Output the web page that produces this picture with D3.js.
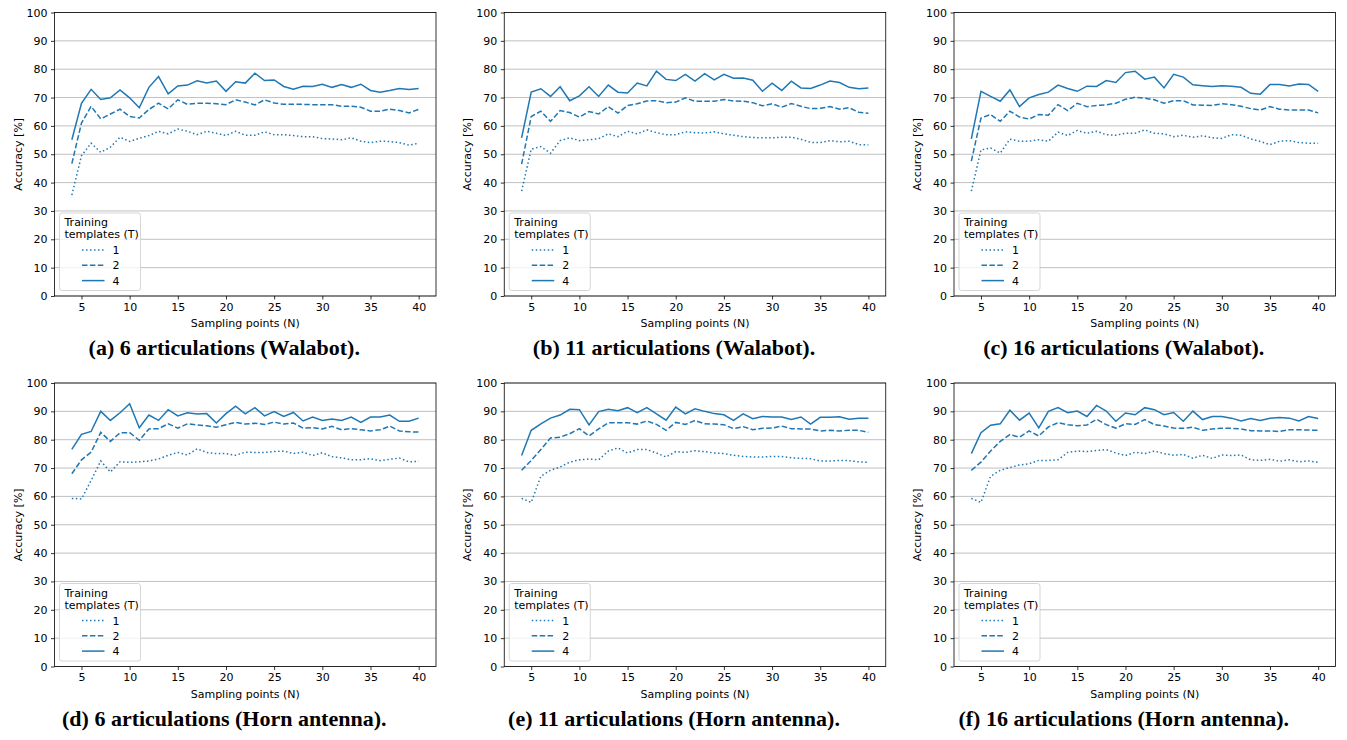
<!DOCTYPE html>
<html>
<head>
<meta charset="utf-8">
<script src="https://cdn.jsdelivr.net/npm/d3@7"></script>
<style>
  body { margin: 0; background: #fff; }
  text { font-family: "DejaVu Sans", sans-serif; }
  .caption { font-family: "Liberation Serif", serif; font-weight: bold; }
</style>
</head>
<body>
<div id="chart"></div>
<script>
// Sampling points on the x axis
var samplingPoints = [4, 5, 6, 7, 8, 9, 10, 11, 12, 13, 14, 15, 16, 17, 18, 19, 20, 21, 22,
  23, 24, 25, 26, 27, 28, 29, 30, 31, 32, 33, 34, 35, 36, 37, 38, 39, 40];

var xTicks = [5, 10, 15, 20, 25, 30, 35, 40];
var yTicks = [0, 10, 20, 30, 40, 50, 60, 70, 80, 90, 100];
var templateLabels = ["1", "2", "4"];

// (a) 6 articulations (Walabot)
var walabot6T1 = [35.6, 49.5, 53.9, 50.7, 52.5, 56.0, 54.5, 55.6, 56.6, 58.1, 57.2, 58.9, 58.1, 56.9, 58.1, 57.4, 56.6, 58.1, 56.7,
  56.7, 57.9, 56.9, 56.9, 56.6, 56.2, 56.2, 55.5, 55.4, 55.1, 55.8, 54.6, 54.1, 54.6, 54.5, 54.1, 53.2, 53.9];
var walabot6T2 = [46.7, 61.0, 66.9, 62.5, 64.2, 65.9, 63.3, 62.8, 65.8, 68.0, 66.0, 69.2, 67.6, 68.0, 68.0, 67.8, 67.5, 69.2, 68.4,
  67.4, 69.2, 68.1, 67.6, 67.6, 67.6, 67.5, 67.5, 67.5, 66.9, 66.9, 66.6, 65.2, 65.2, 65.9, 65.4, 64.6, 65.8];
var walabot6T4 = [55.1, 68.0, 72.9, 69.3, 69.9, 72.7, 69.9, 66.4, 73.6, 77.4, 71.3, 74.1, 74.4, 75.9, 75.1, 75.8, 72.2, 75.6, 75.1,
  78.6, 76.0, 76.2, 73.9, 72.9, 74.0, 73.9, 74.7, 73.6, 74.6, 73.6, 74.7, 72.5, 71.9, 72.5, 73.2, 72.8, 73.2];

// (b) 11 articulations (Walabot)
var walabot11T1 = [37.0, 51.8, 52.7, 50.4, 54.8, 55.8, 54.8, 55.1, 55.5, 57.2, 56.2, 58.1, 57.2, 58.6, 57.6, 56.9, 56.9, 57.9, 57.6,
  57.5, 57.9, 57.2, 56.7, 56.2, 55.9, 55.8, 55.8, 56.0, 56.0, 55.3, 54.2, 54.1, 54.8, 54.4, 54.6, 53.4, 53.3];
var walabot11T2 = [46.5, 63.3, 65.2, 61.6, 65.4, 64.7, 63.1, 65.1, 64.2, 66.8, 64.5, 67.2, 67.8, 68.8, 68.9, 68.2, 68.4, 69.9, 68.7,
  68.7, 68.7, 69.3, 68.8, 68.7, 68.2, 67.1, 67.8, 66.6, 67.9, 66.9, 66.1, 66.2, 66.8, 65.9, 66.4, 64.8, 64.5];
var walabot11T4 = [55.8, 71.9, 73.1, 70.4, 73.8, 68.9, 70.6, 73.8, 70.4, 74.4, 71.9, 71.6, 75.1, 74.1, 79.3, 76.4, 76.0, 78.2, 75.8,
  78.4, 76.2, 78.2, 76.8, 76.9, 76.1, 72.2, 75.1, 72.5, 75.8, 73.4, 73.2, 74.4, 75.8, 75.3, 73.6, 73.1, 73.4];

// (c) 16 articulations (Walabot)
var walabot16T1 = [37.0, 51.5, 52.2, 50.4, 55.3, 54.6, 54.6, 55.1, 54.6, 57.8, 56.6, 58.4, 57.4, 58.1, 56.9, 56.7, 57.4, 57.4, 58.6,
  57.4, 57.2, 56.2, 56.7, 56.0, 56.5, 55.8, 55.6, 56.9, 56.7, 55.4, 54.5, 53.4, 54.6, 54.8, 54.1, 53.9, 53.9];
var walabot16T2 = [47.6, 62.8, 64.0, 61.6, 65.2, 63.1, 62.4, 64.0, 63.8, 67.5, 65.4, 68.0, 66.8, 67.2, 67.4, 68.0, 69.4, 70.1, 69.8,
  69.2, 68.0, 68.9, 68.9, 67.4, 67.3, 67.2, 67.8, 67.5, 66.9, 66.1, 65.6, 66.8, 65.9, 65.6, 65.6, 65.6, 64.6];
var walabot16T4 = [55.4, 72.2, 70.4, 68.7, 72.7, 66.8, 69.9, 71.1, 71.9, 74.4, 73.2, 72.2, 74.0, 73.9, 76.0, 75.3, 78.8, 79.3, 76.5,
  77.2, 73.4, 78.2, 77.2, 74.5, 74.2, 73.9, 74.2, 74.0, 73.6, 71.5, 71.2, 74.6, 74.6, 74.1, 74.8, 74.6, 72.2];

// (d) 6 articulations (Horn antenna)
var horn6T1 = [59.3, 59.1, 65.6, 72.5, 68.6, 72.2, 72.0, 72.2, 72.5, 73.2, 74.5, 75.5, 74.6, 76.8, 75.5, 75.1, 75.1, 74.5, 75.6,
  75.5, 75.5, 75.8, 76.0, 75.1, 75.6, 74.4, 75.4, 74.0, 73.6, 72.9, 72.9, 73.3, 72.6, 73.1, 73.5, 72.2, 72.4];
var horn6T2 = [68.0, 72.9, 75.6, 82.6, 79.4, 82.4, 82.5, 79.8, 83.8, 83.9, 85.6, 84.1, 85.6, 85.2, 84.9, 84.4, 85.3, 86.1, 85.5,
  85.8, 85.4, 86.2, 85.5, 85.9, 84.1, 84.2, 83.8, 84.7, 83.5, 83.9, 83.5, 83.1, 83.5, 84.8, 83.1, 82.8, 82.7];
var horn6T4 = [76.6, 81.9, 82.9, 90.0, 86.8, 89.5, 92.7, 84.2, 88.7, 86.8, 90.6, 88.4, 89.5, 89.1, 89.2, 85.9, 89.2, 91.8, 89.1,
  91.3, 88.4, 89.9, 88.2, 89.6, 86.6, 88.0, 86.8, 87.3, 86.8, 88.0, 86.1, 88.0, 88.0, 88.7, 86.5, 86.5, 87.6];

// (e) 11 articulations (Horn antenna)
var horn11T1 = [59.3, 57.9, 67.1, 69.2, 70.4, 72.1, 72.9, 73.2, 72.9, 76.0, 77.1, 75.3, 76.5, 76.5, 75.3, 73.9, 75.8, 75.5, 76.1,
  75.8, 75.3, 75.1, 74.5, 74.1, 73.9, 73.9, 74.1, 74.1, 73.6, 73.4, 73.3, 72.5, 72.5, 72.7, 72.6, 72.2, 72.0];
var horn11T2 = [69.2, 72.7, 76.5, 80.6, 80.9, 82.1, 83.9, 81.3, 83.8, 86.0, 86.0, 86.0, 85.5, 86.6, 85.4, 83.3, 86.1, 85.4, 86.8,
  85.6, 85.5, 85.3, 83.9, 84.6, 83.5, 84.0, 84.1, 84.8, 83.9, 83.8, 83.8, 83.1, 83.3, 83.1, 83.3, 83.3, 82.6];
var horn11T4 = [74.4, 83.3, 85.6, 87.6, 88.7, 90.7, 90.6, 85.2, 89.9, 90.7, 90.2, 91.3, 89.5, 91.3, 89.1, 86.9, 91.5, 89.1, 90.9,
  90.0, 89.2, 88.8, 86.8, 89.1, 87.4, 88.2, 88.0, 88.0, 87.1, 88.0, 85.5, 87.9, 87.9, 88.1, 87.2, 87.6, 87.6];

// (f) 16 articulations (Horn antenna)
var horn16T1 = [59.3, 57.9, 67.1, 69.2, 70.2, 71.1, 71.5, 72.7, 72.7, 72.9, 75.5, 76.0, 75.8, 76.2, 76.5, 75.3, 74.4, 75.6, 75.1,
  76.0, 75.1, 74.5, 74.8, 73.5, 74.5, 73.4, 74.6, 74.4, 74.6, 72.9, 72.7, 73.1, 72.4, 72.9, 72.2, 72.5, 72.0];
var horn16T2 = [69.2, 72.1, 76.0, 79.4, 81.8, 80.9, 83.1, 81.3, 84.5, 86.0, 85.3, 84.9, 85.2, 87.2, 85.3, 84.1, 85.6, 85.4, 87.1,
  85.3, 84.8, 84.1, 84.0, 84.4, 83.3, 83.8, 84.0, 84.0, 83.8, 83.2, 83.1, 83.1, 82.9, 83.5, 83.5, 83.4, 83.3];
var horn16T4 = [75.1, 82.5, 85.1, 85.6, 90.4, 86.9, 89.4, 84.2, 90.0, 91.3, 89.5, 90.1, 88.2, 92.1, 90.1, 86.5, 89.4, 88.8, 91.3,
  90.6, 88.8, 89.6, 86.5, 90.1, 87.1, 88.2, 88.2, 87.6, 86.6, 87.5, 86.8, 87.6, 87.8, 87.6, 86.6, 88.2, 87.5];

var captions = [
  "(a) 6 articulations (Walabot).",
  "(b) 11 articulations (Walabot).",
  "(c) 16 articulations (Walabot).",
  "(d) 6 articulations (Horn antenna).",
  "(e) 11 articulations (Horn antenna).",
  "(f) 16 articulations (Horn antenna)."
];

var panelSeries = [
  [walabot6T1, walabot6T2, walabot6T4],
  [walabot11T1, walabot11T2, walabot11T4],
  [walabot16T1, walabot16T2, walabot16T4],
  [horn6T1, horn6T2, horn6T4],
  [horn11T1, horn11T2, horn11T4],
  [horn16T1, horn16T2, horn16T4]
];

// SVG height and width
var svgWidth = 1347;
var svgHeight = 740;

var lineColor = "#1f77b4";
var dashes = ["1.5,2.5", "5.5,2.4", null];

// Plot area size and panel positions
var width = 381.5;
var height = 283.5;
var panelLefts = [54.5, 504.25, 954];
var panelTops = [12.5, 383];

var svg = d3.select("#chart")
  .append("svg")
  .attr("width", svgWidth)
  .attr("height", svgHeight);

// Shared scales
var xScale = d3.scaleLinear()
  .domain([2.2, 41.8])
  .range([0, width]);

var yScale = d3.scaleLinear()
  .domain([0, 100])
  .range([height, 0]);

var line = d3.line()
  .x((d, i) => xScale(samplingPoints[i]))
  .y(d => yScale(d));

panelSeries.forEach(function(series, p) {
  var left = panelLefts[p % 3];
  var top = panelTops[Math.floor(p / 3)];

  var chartGroup = svg.append("g")
    .attr("transform", `translate(${left}, ${top})`);

  // Horizontal grid lines
  chartGroup.append("g")
    .selectAll("line")
    .data(yTicks)
    .enter()
    .append("line")
    .attr("x1", 0)
    .attr("x2", width)
    .attr("y1", d => yScale(d))
    .attr("y2", d => yScale(d))
    .attr("stroke", "#b0b0b0")
    .attr("stroke-width", 0.8);

  // Lines for each number of training templates
  chartGroup.append("g")
    .selectAll("path")
    .data(series)
    .enter()
    .append("path")
    .attr("d", d => line(d))
    .attr("fill", "none")
    .attr("stroke", lineColor)
    .attr("stroke-width", 1.5)
    .attr("stroke-dasharray", (d, i) => dashes[i]);

  // Axes
  var bottomAxis = d3.axisBottom(xScale).tickValues(xTicks).tickSize(3.5).tickPadding(3.5);
  var leftAxis = d3.axisLeft(yScale).tickValues(yTicks).tickSize(3.5).tickPadding(3.5);

  var xAxis = chartGroup.append("g")
    .attr("transform", `translate(0, ${height})`)
    .call(bottomAxis);

  var yAxis = chartGroup.append("g")
    .call(leftAxis);

  [xAxis, yAxis].forEach(function(ax) {
    ax.select(".domain").remove();
    ax.selectAll("line").attr("stroke", "#000").attr("stroke-width", 0.8);
    ax.selectAll("text")
      .attr("fill", "#000")
      .style("font-family", "DejaVu Sans")
      .style("font-size", "11px");
  });

  // Frame around the plot
  chartGroup.append("rect")
    .attr("x", 0)
    .attr("y", 0)
    .attr("width", width)
    .attr("height", height)
    .attr("fill", "none")
    .attr("stroke", "#000")
    .attr("stroke-width", 0.8);

  // Axis labels
  chartGroup.append("text")
    .attr("x", width / 2)
    .attr("y", height + 31)
    .attr("text-anchor", "middle")
    .style("font-size", "11px")
    .text("Sampling points (N)");

  chartGroup.append("text")
    .attr("transform", "rotate(-90)")
    .attr("x", -height / 2)
    .attr("y", -33)
    .attr("text-anchor", "middle")
    .style("font-size", "11px")
    .text("Accuracy [%]");

  // Legend
  var legend = chartGroup.append("g")
    .attr("transform", `translate(5, ${height - 83})`);

  legend.append("rect")
    .attr("width", 81)
    .attr("height", 77.5)
    .attr("rx", 2.5)
    .attr("fill", "#fff")
    .attr("fill-opacity", 0.8)
    .attr("stroke", "#cccccc")
    .attr("stroke-width", 0.8);

  legend.append("text")
    .attr("x", 5)
    .attr("y", 13)
    .style("font-size", "11px")
    .text("Training");

  legend.append("text")
    .attr("x", 5)
    .attr("y", 25)
    .style("font-size", "11px")
    .text("templates (T)");

  templateLabels.forEach(function(label, i) {
    var ly = 37 + i * 15.3;
    legend.append("line")
      .attr("x1", 22.5)
      .attr("x2", 45)
      .attr("y1", ly)
      .attr("y2", ly)
      .attr("stroke", lineColor)
      .attr("stroke-width", 1.5)
      .attr("stroke-dasharray", dashes[i]);

    legend.append("text")
      .attr("x", 53)
      .attr("y", ly + 4)
      .style("font-size", "11px")
      .text(label);
  });

  // Caption under the subfigure (centred on the whole subfigure, not only the plot)
  chartGroup.append("text")
    .attr("class", "caption")
    .attr("x", width / 2 - 21)
    .attr("y", height + 59)
    .attr("text-anchor", "middle")
    .style("font-size", "22px")
    .text(captions[p]);
});
</script>
</body>
</html>
